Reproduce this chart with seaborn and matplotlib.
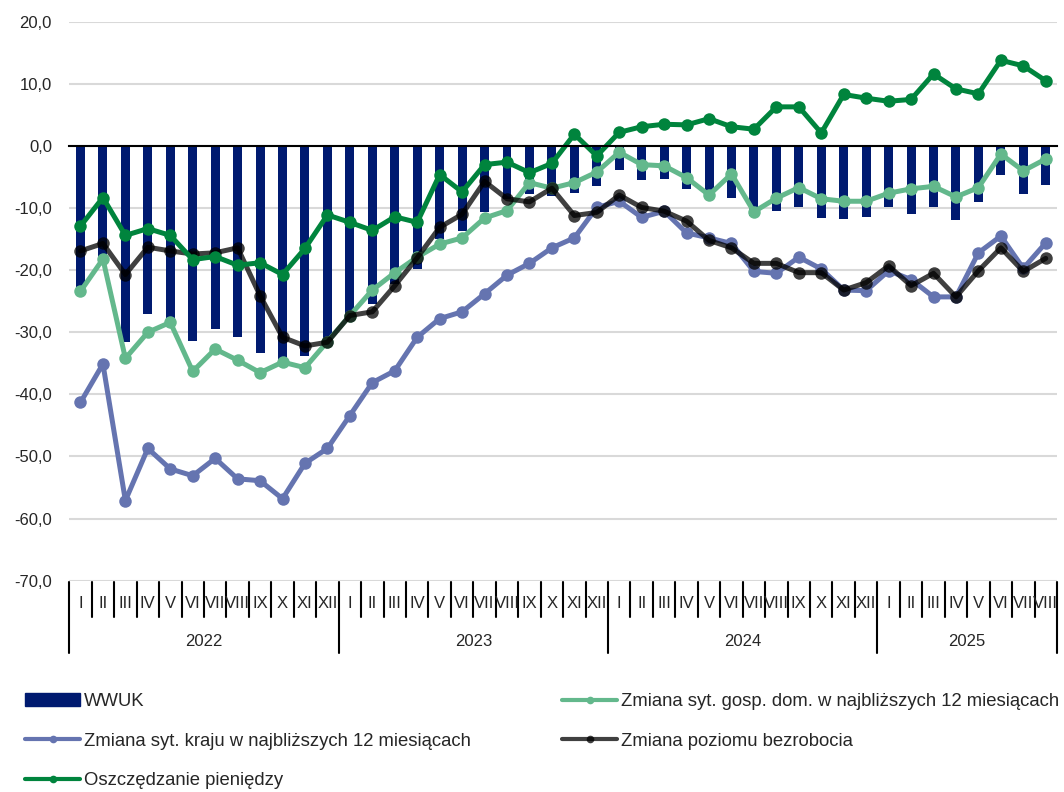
import numpy as np
import pandas as pd
import matplotlib.pyplot as plt
import seaborn as sns
from matplotlib.lines import Line2D
from matplotlib.patches import Patch
from matplotlib.ticker import FuncFormatter

# Axis categories
months = ['I', 'II', 'III', 'IV', 'V', 'VI', 'VII', 'VIII', 'IX', 'X', 'XI', 'XII']
years = ['2022', '2023', '2024', '2025']
period_months = months * 3 + months[:8]

# Series values (I 2022 - VIII 2025)
wwuk = [-22.8, -18.3, -31.5, -27.1, -28.2, -31.4, -29.5, -30.8, -33.3, -34.6, -33.8, -31.5,
        -27.2, -25.5, -22.3, -19.8, -15.0, -13.7, -10.7, -8.5, -7.8, -8.0, -7.5, -6.4,
        -3.9, -5.4, -5.3, -6.9, -8.1, -8.4, -11.3, -10.4, -9.8, -11.6, -11.7, -11.5,
        -9.9, -10.9, -9.9, -11.9, -9.0, -4.7, -7.8, -6.3]
gosp_dom = [-23.4, -18.2, -34.2, -30.0, -28.4, -36.3, -32.7, -34.5, -36.5, -34.8, -35.7, -31.5,
            -27.3, -23.2, -20.4, -17.9, -15.8, -14.8, -11.6, -10.4, -5.9, -6.8, -5.9, -4.2,
            -1.0, -3.0, -3.2, -5.1, -7.9, -4.5, -10.6, -8.4, -6.7, -8.5, -8.9, -8.9,
            -7.6, -6.9, -6.5, -8.2, -6.7, -1.3, -4.0, -2.1]
kraj = [-41.3, -35.1, -57.1, -48.7, -52.0, -53.1, -50.3, -53.6, -53.9, -56.8, -51.1, -48.7,
        -43.4, -38.1, -36.2, -30.8, -27.8, -26.7, -23.8, -20.8, -18.9, -16.4, -14.8, -9.9,
        -8.9, -11.5, -10.5, -14.0, -14.8, -15.7, -20.2, -20.5, -17.9, -19.8, -23.2, -23.3,
        -20.1, -21.5, -24.3, -24.3, -17.2, -14.5, -19.7, -15.6]
bezrobocie = [-16.9, -15.7, -20.7, -16.3, -16.9, -17.4, -17.2, -16.4, -24.1, -30.8, -32.2, -31.6,
              -27.3, -26.7, -22.5, -18.0, -13.1, -11.0, -5.7, -8.5, -9.0, -6.8, -11.2, -10.7,
              -7.9, -9.9, -10.5, -12.1, -15.2, -16.4, -18.9, -18.9, -20.4, -20.4, -23.2, -22.0,
              -19.3, -22.5, -20.5, -24.3, -20.1, -16.4, -20.2, -18.1]
oszczedzanie = [-12.9, -8.3, -14.4, -13.3, -14.4, -18.3, -17.8, -19.2, -18.8, -20.7, -16.5, -11.1,
                -12.3, -13.6, -11.4, -12.3, -4.6, -7.4, -3.0, -2.6, -4.3, -2.8, 1.9, -1.6,
                2.2, 3.1, 3.5, 3.4, 4.4, 3.1, 2.7, 6.3, 6.3, 2.1, 8.3, 7.7,
                7.2, 7.5, 11.6, 9.2, 8.4, 13.8, 12.9, 10.5]

labels = {
    'wwuk': 'WWUK',
    'gosp_dom': 'Zmiana syt. gosp. dom. w najbliższych 12 miesiącach',
    'kraj': 'Zmiana syt. kraju w najbliższych 12 miesiącach',
    'bezrobocie': 'Zmiana poziomu bezrobocia',
    'oszczedzanie': 'Oszczędzanie pieniędzy',
}
colors = {
    'wwuk': '#001a70',
    'gosp_dom': '#63b88c',
    'kraj': '#6574b0',
    'bezrobocie': '#000000',
    'oszczedzanie': '#00843d',
}
alphas = {'gosp_dom': 1.0, 'kraj': 1.0, 'bezrobocie': 0.75, 'oszczedzanie': 1.0}

n = len(wwuk)
df = pd.DataFrame({'idx': np.arange(n), 'wwuk': wwuk, 'gosp_dom': gosp_dom, 'kraj': kraj,
                   'bezrobocie': bezrobocie, 'oszczedzanie': oszczedzanie})

sns.set_style('white')
plt.rcParams['font.family'] = ['Liberation Sans', 'DejaVu Sans']

fig = plt.figure(figsize=(10.64, 7.92), dpi=100)
ax = fig.add_axes([0.0651, 0.2668, 0.9283, 0.7057])

ax.yaxis.grid(True, color='#d9d9d9', lw=1.5)
ax.xaxis.grid(False)
ax.set_axisbelow(True)

sns.barplot(data=df, x='idx', y='wwuk', color=colors['wwuk'], saturation=1,
            width=0.4, linewidth=0, ax=ax)

for col in ['gosp_dom', 'kraj', 'bezrobocie', 'oszczedzanie']:
    sns.lineplot(data=df, x='idx', y=col, color=colors[col], alpha=alphas[col],
                 lw=3.6, marker='o', markersize=9, markeredgewidth=0,
                 legend=False, ax=ax)

ax.set_xlim(-0.5, n - 0.5)
ax.set_ylim(-70, 20)
ax.set_yticks(np.arange(-70, 21, 10))
ax.yaxis.set_major_formatter(FuncFormatter(lambda v, p: f'{v:.1f}'.replace('.', ',')))
ax.tick_params(axis='y', length=0, pad=12.5, labelsize=12)
ax.set_xlabel('')
ax.set_ylabel('')

for s in ['left', 'right', 'top']:
    ax.spines[s].set_visible(False)
ax.spines['bottom'].set_position(('data', 0))
ax.spines['bottom'].set_color('black')
ax.spines['bottom'].set_linewidth(1.5)
ax.set_xticks(np.arange(n + 1) - 0.5)
ax.set_xticklabels([])
ax.tick_params(axis='x', direction='in', length=5, width=1.2, color='black', labelbottom=False)

# Two-level category axis under the plot
trans = ax.get_xaxis_transform()
for i, m in enumerate(period_months):
    ax.text(i, -0.041, m, transform=trans, ha='center', va='center', fontsize=12)
for b in range(n + 1):
    long = b % 12 == 0 or b == n
    ax.plot([b - 0.5, b - 0.5], [-0.0023, -0.1288 if long else -0.0644],
            transform=trans, color='black', lw=1.5, clip_on=False)
for k, yr in enumerate(years):
    start = 12 * k
    end = min(start + 12, n)
    ax.text((start + end - 1) / 2, -0.108, yr, transform=trans, ha='center', va='center', fontsize=12)


def line_handle(col):
    return Line2D([], [], color=colors[col], alpha=alphas[col], lw=3, marker='o',
                  markersize=5.5, markeredgewidth=0, label=labels[col])


h_left = [Patch(color=colors['wwuk'], label=labels['wwuk']), line_handle('kraj'), line_handle('oszczedzanie')]
h_right = [line_handle('gosp_dom'), line_handle('bezrobocie')]
leg_kw = dict(loc='upper left', frameon=False, fontsize=13.3, handlelength=3.0,
              handletextpad=0.2, labelspacing=1.22, borderpad=0, borderaxespad=0)
fig.legend(handles=h_left, bbox_to_anchor=(25 / 1064, 1 - 693 / 792), **leg_kw)
fig.legend(handles=h_right, bbox_to_anchor=(562 / 1064, 1 - 693 / 792), **leg_kw)

fig.savefig('out.png', dpi=100)
